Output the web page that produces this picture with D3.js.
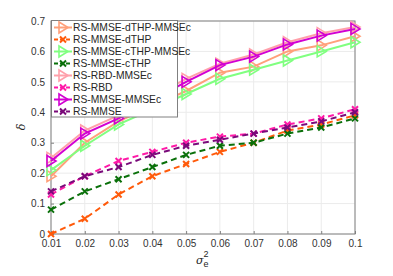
<!DOCTYPE html>
<html>
<head>
<meta charset="utf-8">
<script src="https://cdn.jsdelivr.net/npm/d3@7"></script>
<style>
  body { margin: 0; background: #fff; }
  text { font-family: "Liberation Sans", Arial, sans-serif; }
</style>
</head>
<body>
<svg id="chart" width="393" height="276"></svg>
<script>
// data
var xs = [0.01, 0.02, 0.03, 0.04, 0.05, 0.06, 0.07, 0.08, 0.09, 0.1];
var xTicks = ["0.01","0.02","0.03","0.04","0.05","0.06","0.07","0.08","0.09","0.1"];
var yTicks = [0, 0.1, 0.2, 0.3, 0.4, 0.5, 0.6, 0.7];

var names = ["RS-MMSE-dTHP-MMSEc", "RS-MMSE-dTHP", "RS-MMSE-cTHP-MMSEc", "RS-MMSE-cTHP",
             "RS-RBD-MMSEc", "RS-RBD", "RS-MMSE-MMSEc", "RS-MMSE"];
var dthpMmsec = [0.19, 0.30, 0.37, 0.42, 0.47, 0.53, 0.55, 0.60, 0.62, 0.65];
var dthp      = [0.00, 0.05, 0.13, 0.19, 0.23, 0.27, 0.30, 0.34, 0.36, 0.39];
var cthpMmsec = [0.21, 0.29, 0.36, 0.41, 0.46, 0.51, 0.54, 0.57, 0.60, 0.63];
var cthp      = [0.08, 0.14, 0.18, 0.22, 0.26, 0.29, 0.30, 0.33, 0.35, 0.38];
var rbdMmsec  = [0.25, 0.34, 0.39, 0.45, 0.51, 0.56, 0.59, 0.63, 0.66, 0.68];
var rbd       = [0.13, 0.19, 0.24, 0.27, 0.30, 0.32, 0.33, 0.36, 0.38, 0.41];
var mmseMmsec = [0.24, 0.33, 0.38, 0.44, 0.50, 0.555, 0.583, 0.623, 0.652, 0.674];
var mmse      = [0.14, 0.19, 0.22, 0.26, 0.29, 0.31, 0.33, 0.35, 0.37, 0.40];

var seriesVals = [dthpMmsec, dthp, cthpMmsec, cthp, rbdMmsec, rbd, mmseMmsec, mmse];
var colors = ["#ffa07a", "#ff5a0a", "#80ff80", "#0a700a", "#ffa0aa", "#ff1aa8", "#d200d2", "#7a0a7a"];
var isMmsec = [true, false, true, false, true, false, true, false];

var svg = d3.select("#chart");
var pLeft = 51, pRight = 355, pTop = 21, pBottom = 234;
var x = d3.scaleLinear().domain([0.01, 0.1]).range([pLeft, pRight]);
var y = d3.scaleLinear().domain([0, 0.7]).range([pBottom, pTop]);

// grid
svg.append("g").selectAll("line").data(xs).enter().append("line")
  .attr("x1", d => x(d)).attr("x2", d => x(d)).attr("y1", pTop).attr("y2", pBottom)
  .attr("stroke", "#ebebeb").attr("stroke-width", 1);
svg.append("g").selectAll("line").data(yTicks).enter().append("line")
  .attr("x1", pLeft).attr("x2", pRight).attr("y1", d => y(d)).attr("y2", d => y(d))
  .attr("stroke", "#ebebeb").attr("stroke-width", 1);

// axes (matlab style: ticks inside, box on)
var xAxis = d3.axisBottom(x).tickValues(xs).tickFormat((d, i) => xTicks[i]).tickSizeInner(-3).tickSizeOuter(0).tickPadding(6);
var yAxis = d3.axisLeft(y).tickValues(yTicks).tickFormat(d3.format("")).tickSizeInner(-3).tickSizeOuter(0).tickPadding(6);
var gx = svg.append("g").attr("transform", "translate(0," + pBottom + ")").call(xAxis);
var gy = svg.append("g").attr("transform", "translate(" + pLeft + ",0)").call(yAxis);
[gx, gy].forEach(function(g) {
  g.select(".domain").remove();
  g.selectAll("line").attr("stroke", "#808080");
  g.selectAll("text").attr("fill", "#333").style("font-size", "10px")
    .style("font-family", "'Liberation Sans', Arial, sans-serif");
});
svg.append("rect").attr("x", pLeft).attr("y", pTop).attr("width", pRight - pLeft).attr("height", pBottom - pTop)
  .attr("fill", "none").attr("stroke", "#808080").attr("stroke-width", 1);

// lines
var line = d3.line().x((d, i) => x(xs[i])).y(d => y(d));
function triPath(cx, cy) {
  return "M" + (cx - 4) + "," + (cy - 5.5) + "L" + (cx + 5) + "," + cy + "L" + (cx - 4) + "," + (cy + 5.5) + "Z";
}
function crossPath(cx, cy) {
  var s = 3;
  return "M" + (cx - s) + "," + (cy - s) + "L" + (cx + s) + "," + (cy + s) + "M" + (cx - s) + "," + (cy + s) + "L" + (cx + s) + "," + (cy - s);
}
seriesVals.forEach(function(vals, k) {
  var g = svg.append("g");
  g.append("path").datum(vals).attr("d", line).attr("fill", "none")
    .attr("stroke", colors[k]).attr("stroke-width", 2)
    .attr("stroke-dasharray", isMmsec[k] ? null : "6,4");
  g.selectAll(".m").data(vals).enter().append("path")
    .attr("d", (d, i) => isMmsec[k] ? triPath(x(xs[i]), y(d)) : crossPath(x(xs[i]), y(d)))
    .attr("fill", "none").attr("stroke", colors[k]).attr("stroke-width", isMmsec[k] ? 1.6 : 2);
});

// legend
var lg = svg.append("g");
lg.append("rect").attr("x", 51.5).attr("y", 20.5).attr("width", 126).attr("height", 96.5)
  .attr("fill", "#fff").attr("stroke", "#808080").attr("stroke-width", 1);
names.forEach(function(n, k) {
  var cy = 27.5 + k * 12;
  lg.append("line").attr("x1", 54).attr("x2", 72).attr("y1", cy).attr("y2", cy)
    .attr("stroke", colors[k]).attr("stroke-width", 2)
    .attr("stroke-dasharray", isMmsec[k] ? null : "4,2");
  lg.append("path").attr("d", isMmsec[k] ? triPath(63, cy) : crossPath(63, cy))
    .attr("fill", "none").attr("stroke", colors[k]).attr("stroke-width", isMmsec[k] ? 1.6 : 2);
  lg.append("text").attr("x", 73).attr("y", cy + 3.5).attr("fill", "#262626")
    .style("font-size", "10.3px").text(n);
});

// axis labels
svg.append("text").attr("transform", "translate(25,127) rotate(-90)")
  .attr("text-anchor", "middle").attr("fill", "#262626").style("font-size", "11px")
  .style("font-family", "'DejaVu Serif', serif").style("font-style", "italic").text("δ");
var xl = svg.append("text").attr("x", 196).attr("y", 264).attr("fill", "#262626")
  .style("font-size", "11px");
xl.append("tspan").style("font-style", "italic").style("font-family", "'DejaVu Serif', serif").text("σ");
xl.append("tspan").attr("dy", 3).style("font-size", "9px").text("e");
xl.append("tspan").attr("dx", -5).attr("dy", -10).style("font-size", "9px").text("2");
</script>
</body>
</html>
